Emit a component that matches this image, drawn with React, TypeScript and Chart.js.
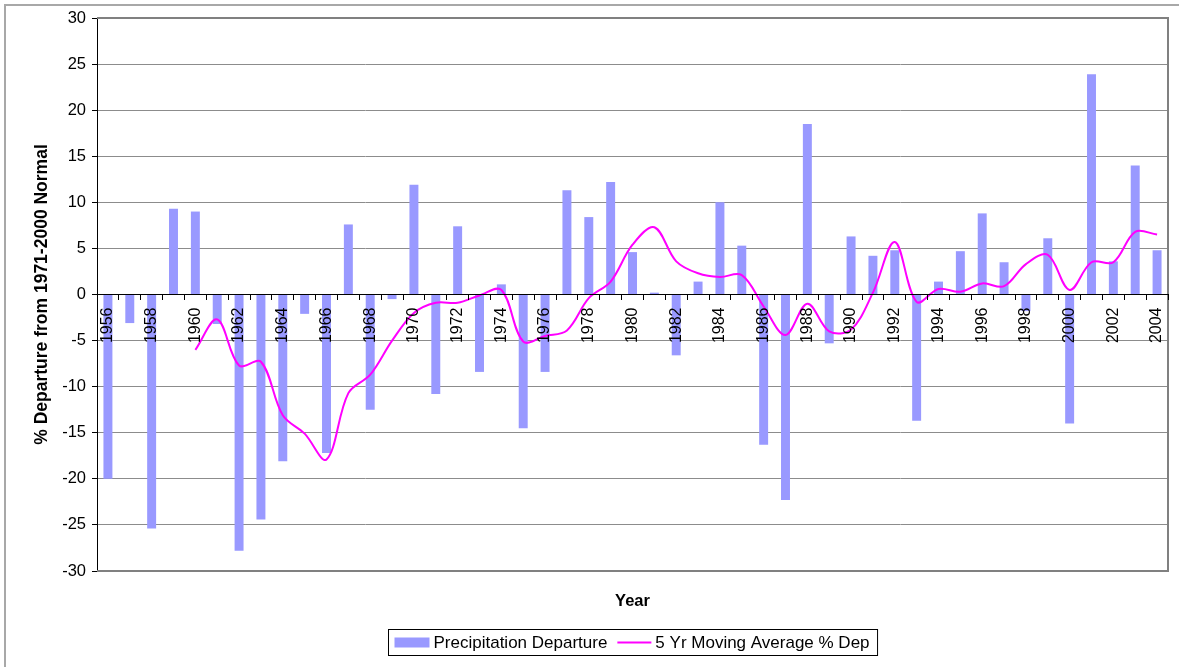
import React, { useEffect, useRef } from 'react';
import { Chart, registerables } from 'chart.js';

Chart.register(...registerables);

const years = [
  '1956', '1957', '1958', '1959', '1960', '1961', '1962', '1963', '1964', '1965',
  '1966', '1967', '1968', '1969', '1970', '1971', '1972', '1973', '1974', '1975',
  '1976', '1977', '1978', '1979', '1980', '1981', '1982', '1983', '1984', '1985',
  '1986', '1987', '1988', '1989', '1990', '1991', '1992', '1993', '1994', '1995',
  '1996', '1997', '1998', '1999', '2000', '2001', '2002', '2003', '2004',
];

const precipitationDeparture = [
  -20.0, -3.1, -25.4, 9.3, 9.0, -3.2, -27.8, -24.4, -18.1, -2.1,
  -17.2, 7.6, -12.5, -0.5, 11.9, -10.8, 7.4, -8.4, 1.1, -14.5,
  -8.4, 11.3, 8.4, 12.2, 4.6, 0.2, -6.6, 1.4, 10.0, 5.3,
  -16.3, -22.3, 18.5, -5.3, 6.3, 4.2, 4.8, -13.7, 1.4, 4.7,
  8.8, 3.5, -1.8, 6.1, -14.0, 23.9, 3.6, 14.0, 4.8,
];

const movingAverage = [
  null, null, null, null, -6.0, -2.7, -7.7, -7.3, -13.1, -15.1,
  -17.9, -10.7, -8.7, -5.0, -2.0, -0.9, -0.9, -0.1, 0.5, -5.1,
  -4.5, -3.9, -0.4, 1.4, 5.4, 7.3, 3.6, 2.3, 1.9, 2.1,
  -1.3, -4.4, -1.0, -4.0, -3.8, 0.2, 5.7, -0.8, 0.6, 0.3,
  1.2, 0.9, 3.3, 4.3, 0.5, 3.5, 3.5, 6.8, 6.5,
];

const seriesNames = ['Precipitation Departure', '5 Yr Moving Average % Dep'];
const yAxisTitle = '% Departure from 1971-2000 Normal';
const xAxisTitle = 'Year';
const yMin = -30;
const yMax = 30;
const yStep = 5;

const FONT = '"Liberation Sans", Arial, Helvetica, sans-serif';
const BAR_COLOR = '#9999FF';
const LINE_COLOR = '#FF00FF';

const decorations = {
  id: 'decorations',
  beforeDatasetsDraw(chart: any) {
    const { ctx, chartArea: a } = chart;
    ctx.save();
    ctx.strokeStyle = '#808080';
    ctx.lineWidth = 2;
    ctx.beginPath();
    ctx.moveTo(a.left, a.top);
    ctx.lineTo(a.right, a.top);
    ctx.lineTo(a.right, a.bottom);
    ctx.lineTo(a.left, a.bottom);
    ctx.stroke();
    ctx.restore();
  },
  afterDraw(chart: any) {
    const { ctx, chartArea: a, width, height } = chart;
    ctx.save();
    // outer frame
    ctx.strokeStyle = '#a8a8a8';
    ctx.lineWidth = 2;
    ctx.beginPath();
    ctx.moveTo(5, height);
    ctx.lineTo(5, 5);
    ctx.lineTo(width, 5);
    ctx.stroke();

    const cx = (a.left + a.right) / 2;
    // x axis title
    ctx.fillStyle = '#000';
    ctx.font = `bold 16.5px ${FONT}`;
    ctx.textAlign = 'center';
    ctx.textBaseline = 'middle';
    ctx.fillText(xAxisTitle, cx, a.bottom + 30);

    // legend
    ctx.font = `17px ${FONT}`;
    const w1 = ctx.measureText(seriesNames[0]).width;
    const w2 = ctx.measureText(seriesNames[1]).width;
    const total = 6 + 35 + 4 + w1 + 10 + 34 + 4 + w2 + 8;
    const left = Math.round(cx - total / 2) + 0.5;
    const top = a.bottom + 58.5;
    const h = 26;
    const cy = top + h / 2;
    ctx.strokeStyle = '#000';
    ctx.lineWidth = 1;
    ctx.strokeRect(left, top, total, h);
    let x = left + 6;
    ctx.fillStyle = BAR_COLOR;
    ctx.fillRect(x, cy - 5, 35, 10);
    x += 35 + 4;
    ctx.fillStyle = '#000';
    ctx.textAlign = 'left';
    ctx.fillText(seriesNames[0], x, cy + 1);
    x += w1 + 10;
    ctx.strokeStyle = LINE_COLOR;
    ctx.lineWidth = 2;
    ctx.beginPath();
    ctx.moveTo(x, cy);
    ctx.lineTo(x + 34, cy);
    ctx.stroke();
    x += 34 + 4;
    ctx.fillText(seriesNames[1], x, cy + 1);
    ctx.restore();
  },
};

export default function App() {
  const canvasRef = useRef<HTMLCanvasElement | null>(null);

  useEffect(() => {
    if (!canvasRef.current) return;
    const chart = new Chart(canvasRef.current, {
      type: 'bar',
      data: {
        labels: years,
        datasets: [
          {
            type: 'line',
            label: seriesNames[1],
            data: movingAverage,
            borderColor: LINE_COLOR,
            backgroundColor: LINE_COLOR,
            borderWidth: 2,
            pointRadius: 0,
            tension: 0.35,
            spanGaps: false,
            order: 0,
          } as any,
          {
            type: 'bar',
            label: seriesNames[0],
            data: precipitationDeparture,
            backgroundColor: BAR_COLOR,
            borderWidth: 0,
            barPercentage: 0.41,
            categoryPercentage: 1,
            order: 1,
          },
        ],
      },
      options: {
        animation: false,
        responsive: false,
        devicePixelRatio: 1,
        layout: { padding: { left: 0, top: 18, right: 11, bottom: 96 } },
        plugins: {
          legend: { display: false },
          tooltip: { enabled: false },
        },
        scales: {
          x: {
            type: 'category',
            position: { y: 0 } as any,
            offset: true,
            afterFit: (s: any) => {
              s.paddingLeft = 0;
              s.paddingRight = 0;
              s.paddingTop = 0;
              s.paddingBottom = 0;
            },
            grid: {
              display: true,
              drawOnChartArea: false,
              drawTicks: true,
              tickLength: 5,
              tickColor: '#000',
              offset: true,
              z: 1,
            },
            border: { display: true, color: '#000', width: 1, z: 1 },
            ticks: {
              autoSkip: false,
              maxRotation: 90,
              minRotation: 90,
              padding: 8,
              color: '#000',
              z: 1,
              font: { family: FONT, size: 16 },
              callback: (_v: any, i: number) => (i % 2 === 0 ? years[i] : ''),
            },
          } as any,
          y: {
            type: 'linear',
            position: 'left',
            min: yMin,
            max: yMax,
            afterFit: (s: any) => {
              s.width = 97;
            },
            grid: {
              color: '#8c8c8c',
              lineWidth: 1,
              drawTicks: true,
              tickLength: 5,
              tickColor: '#000',
            },
            border: { display: true, color: '#000', width: 1 },
            ticks: {
              stepSize: yStep,
              padding: 6,
              color: '#000',
              font: { family: FONT, size: 16.5 },
            },
            title: {
              display: true,
              text: yAxisTitle,
              color: '#000',
              font: { family: FONT, size: 17.5, weight: 'bold' },
              padding: { top: 32, bottom: 0 },
            },
          },
        },
      },
      plugins: [decorations],
    });
    return () => chart.destroy();
  }, []);

  return (
    <div style={{ position: 'fixed', left: 0, top: 0, width: 1179, height: 667, background: '#fff' }}>
      <canvas ref={canvasRef} width={1179} height={667} style={{ display: 'block' }} />
    </div>
  );
}
